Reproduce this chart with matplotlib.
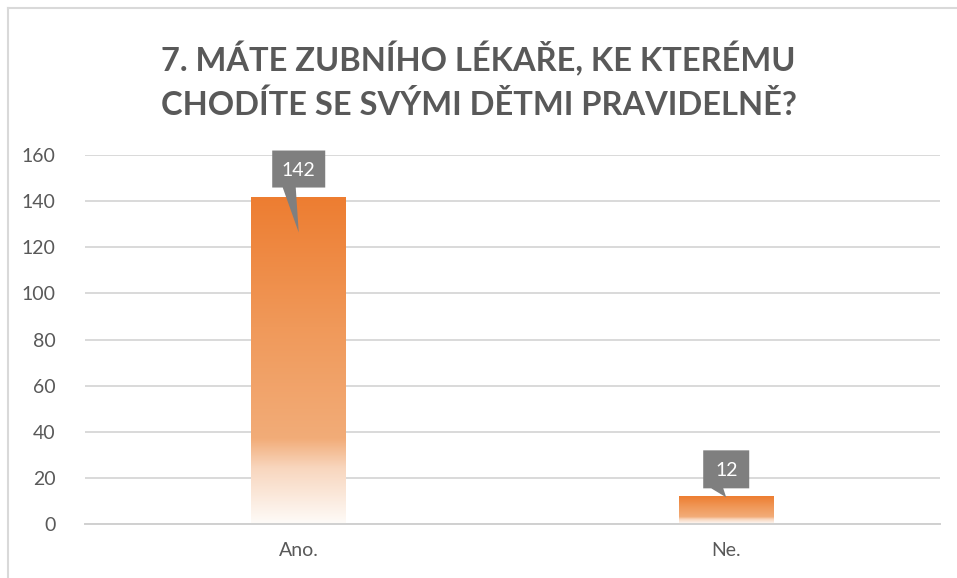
import numpy as np
import matplotlib
matplotlib.use("Agg")
import matplotlib.pyplot as plt
import matplotlib.transforms as mtransforms
from matplotlib.colors import LinearSegmentedColormap
from matplotlib.patches import Polygon
from matplotlib.lines import Line2D

categories = ["Ano.", "Ne."]
values = [142, 12]
title = "7. MÁTE ZUBNÍHO LÉKAŘE, KE KTERÉMU\nCHODÍTE SE SVÝMI DĚTMI PRAVIDELNĚ?"
yticks = [0, 20, 40, 60, 80, 100, 120, 140, 160]

plt.rcParams['font.family'] = ['Lato', 'DejaVu Sans']
textColor = '#595959'

fig = plt.figure(figsize=(9.57, 5.78), dpi=100)
ax = fig.add_axes([0.0888, 0.0934, 0.8934, 0.6384])

# gradient fill for bars: orange on top, fading to white at the bottom
grad = LinearSegmentedColormap.from_list('barGrad', [
    (0.0, '#FEFBF8'), (0.17, '#F8D6BE'), (0.26, '#F2AC78'),
    (0.6, '#F0995A'), (1.0, '#ED7D31')])
x = np.arange(len(categories))
barWidth = 0.222
for xi, v in zip(x, values):
    im = ax.imshow(np.linspace(0, 1, 256).reshape(-1, 1), cmap=grad, aspect='auto',
                   origin='lower', extent=(xi - barWidth / 2, xi + barWidth / 2, 0, v),
                   zorder=2)
    rect = plt.Rectangle((xi - barWidth / 2, 0), barWidth, v, transform=ax.transData,
                         facecolor='none', edgecolor='none')
    ax.add_patch(rect)
    im.set_clip_path(rect)

ax.set_xlim(-0.5, len(categories) - 0.5)
ax.set_ylim(0, 160)
ax.set_yticks(yticks)
ax.set_xticks(x, labels=categories)
ax.tick_params(length=0, labelsize=14, colors=textColor)
ax.tick_params(axis='y', pad=21)
ax.tick_params(axis='x', pad=13)
ax.grid(axis='y', color='#D9D9D9', linewidth=1.4, zorder=0)
ax.set_axisbelow(True)
for s in ['top', 'right', 'left']:
    ax.spines[s].set_visible(False)
ax.spines['bottom'].set_color('#D0D0D0')
ax.spines['bottom'].set_linewidth(1.4)

# callout labels (shapes in pixels relative to the top of each bar)
calloutStyle = {142: dict(w=53, top=46, bot=9, tip=36, b0=-16, b1=-3),
                12: dict(w=46, top=46, bot=8, tip=1, b0=-15, b1=-3)}
px = 1 / 100
for xi, v in zip(x, values):
    st = calloutStyle[v]
    hw = st['w'] / 2
    pts = np.array([(-hw, st['top']), (hw, st['top']), (hw, st['bot']),
                    (st['b1'], st['bot']), (0, -st['tip']), (st['b0'], st['bot']),
                    (-hw, st['bot'])]) * px
    trans = fig.dpi_scale_trans + mtransforms.ScaledTranslation(xi, v, ax.transData)
    poly = Polygon(pts, closed=True, facecolor='#7F7F7F', edgecolor='none',
                   transform=trans, zorder=5, clip_on=False)
    ax.add_patch(poly)
    ax.text(0, (st['top'] + st['bot']) / 2 * px, str(v), transform=trans, color='white',
            fontsize=14, ha='center', va='center_baseline', zorder=6)

fig.text(0.5, 0.861, title, ha='center', va='center', fontsize=23.5, fontweight='bold',
         color=textColor, linespacing=1.5)

# chart frame (left and top edges)
fig.add_artist(Line2D([8 / 957, 8 / 957], [0, 1 - 8 / 578], color='#D9D9D9', linewidth=1.5))
fig.add_artist(Line2D([8 / 957, 1], [1 - 8 / 578, 1 - 8 / 578], color='#D9D9D9', linewidth=1.5))

fig.savefig('out.png', dpi=100)
